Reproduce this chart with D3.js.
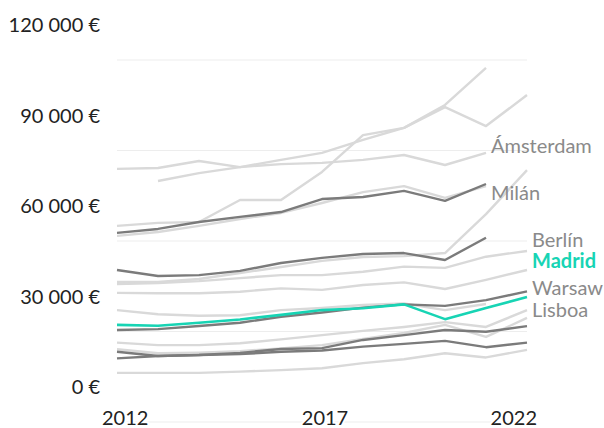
<!DOCTYPE html>
<html>
<head>
<meta charset="utf-8">
<script src="https://d3js.org/d3.v7.min.js"></script>
<style>
  body { margin: 0; background: #fff; }
  svg text { font-family: Lato, "Open Sans", sans-serif; }
</style>
</head>
<body>
<svg id="chart" width="604" height="428"></svg>
<script>
// years on the x axis
const years = [2012, 2013, 2014, 2015, 2016, 2017, 2018, 2019, 2020, 2021, 2022]
const yTicks = [0, 30000, 60000, 90000, 120000]
const xTicks = [2012, 2017, 2022]

// named cities (null = no data that year)
const amsterdam = [83900, 84200, 86500, 84500, 85500, 85900, 86900, 88500, 85200, 89200, null]
const milan     = [62700, 64000, 66300, 68000, 69600, 73900, 74600, 76600, 73300, 78900, null]
const berlin    = [50400, 48400, 48700, 50100, 52700, 54400, 55700, 56000, 53700, 61100, null]
const madrid    = [32200, 31900, 32900, 34000, 35500, 37100, 37700, 39000, 34100, 37800, 41400]
const warsaw    = [30500, 30800, 31800, 32900, 34900, 36300, 37900, 39000, 38500, 40400, 43300]
// the other cities in the background
const cityB = [null, 79900, 82500, 84500, 86900, 89200, 93500, 97500, 104400, 98100, 108400]
const cityC = [65000, 66000, 66300, 73600, 73600, 82900, 95100, 97500, 105100, 117400, null]
const cityD = [61700, 63000, 65000, 67300, 69300, 72600, 76200, 78200, 74300, 78200, null]
const cityE = [46400, 46400, 47400, 49400, 51400, 53400, 54700, 55000, 56000, 68900, 83500]
const cityF = [45700, 46100, 46700, 47700, 48700, 48700, 49800, 51500, 51100, 54800, 56700]
const cityG = [42800, 42700, 42700, 43200, 44300, 43800, 45400, 46300, 44100, 47100, 50400]
const cityH = [37100, 35700, 35200, 35400, 37100, 37800, 38800, 39300, 37100, 39100, null]
const cityI = [26300, 25500, 25500, 26100, 27400, 28800, 30200, 31500, 33100, 31500, 37100]
const cityJ = [24100, 22800, 23000, 23500, 24400, 25500, 27500, 29500, 32200, 28200, 34500]
const cityK = [23300, 21900, 22200, 22900, 24200, 24500, 27200, 28800, 30500, 29900, 31800]
const cityL = [21100, 21900, 22200, 22500, 23300, 23700, 25000, 25900, 26900, 24800, 26300]
const cityM = [16300, 16300, 16300, 16700, 17200, 17800, 19500, 20800, 22800, 21400, 23900]

const lightSeries = [amsterdam, cityB, cityC, cityD, cityE, cityF, cityG, cityH, cityI, cityJ, cityM]
const darkSeries = [milan, berlin, warsaw, cityK, cityL]

const labelNames = ["Ámsterdam", "Milán", "Berlín", "Madrid", "Warsaw", "Lisboa"]

const light = "#d9d9d9", dark = "#7b7b7b", teal = "#17d4b4"

const svg = d3.select("#chart")
const x = d3.scaleLinear().domain([2012, 2022]).range([117, 527])
const y = d3.scaleLinear().domain([0, 120000]).range([422, 60])

const euro = d3.formatLocale({ decimal: ",", thousands: " ", grouping: [3], currency: ["", " €"] }).format("$,")

// grid
svg.append("g").selectAll("line").data(yTicks).join("line")
    .attr("x1", x(2012)).attr("x2", x(2022))
    .attr("y1", d => y(d)).attr("y2", d => y(d))
    .attr("stroke", "#ededed").attr("stroke-width", 1)

// y labels sit above their grid line
svg.append("g").selectAll("text").data(yTicks).join("text")
    .attr("x", 100).attr("y", d => y(d) - 35).attr("dy", "0.35em")
    .attr("text-anchor", "end").attr("font-size", 20).attr("fill", "#222")
    .text(d => euro(d))

const line = d3.line()
    .defined(d => d != null)
    .x((d, i) => x(years[i]))
    .y(d => y(d))

function drawLines(list, color, width) {
    svg.append("g").selectAll("path").data(list).join("path")
        .attr("d", line)
        .attr("fill", "none")
        .attr("stroke", color)
        .attr("stroke-width", width)
        .attr("stroke-linejoin", "round")
}
drawLines(lightSeries, light, 2.4)
drawLines(darkSeries, dark, 2.4)
drawLines([madrid], teal, 2.6)

// x labels
const xAnchor = { 2012: "start", 2017: "middle", 2022: "end" }
const xShift = { 2012: -15, 2017: 3, 2022: 10 }
svg.append("g").selectAll("text").data(xTicks).join("text")
    .attr("x", d => x(d) + xShift[d]).attr("y", 425)
    .attr("text-anchor", d => xAnchor[d])
    .attr("font-size", 20).attr("fill", "#222")
    .attr("stroke", "#fff").attr("stroke-width", 4).attr("paint-order", "stroke")
    .text(d => d)

// city labels
const labelX = [x(2021) + 5, x(2021) + 5, x(2022) + 5, x(2022) + 5, x(2022) + 5, x(2022) + 5]
const labelY = [153, 200, 247, 268, 295, 317]
svg.append("g").selectAll("text").data(labelNames).join("text")
    .attr("x", (d, i) => labelX[i]).attr("y", (d, i) => labelY[i])
    .attr("font-size", 20)
    .attr("font-weight", d => d === "Madrid" ? "bold" : "normal")
    .attr("fill", d => d === "Madrid" ? teal : "#8a8a8a")
    .text(d => d)
</script>
</body>
</html>
